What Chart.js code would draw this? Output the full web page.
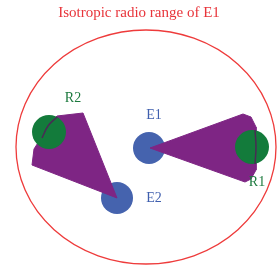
<!DOCTYPE html>
<html>
<head>
<meta charset="utf-8">
<script src="https://cdn.jsdelivr.net/npm/chart.js@4/dist/chart.umd.min.js"></script>
<style>
  html, body { margin: 0; padding: 0; background: #ffffff; }
  #wrap { width: 278px; height: 266px; }
</style>
</head>
<body>
<div id="wrap"><canvas id="c" width="278" height="266"></canvas></div>
<script>
// ---- data (diagram coordinates, x right, y down) ----
const titleText = "Isotropic radio range of E1";
const rangeCenter = [146, 147];
const rangeRadii = [130, 117];

const nodeNames = ["E1", "E2"];
const nodeX = [149, 117];
const nodeY = [148, 198];

const receiverNames = ["R1", "R2"];
const receiverX = [252, 49];
const receiverY = [147, 132];

const beam1X = [150, 243, 251, 256, 256, 251, 245, 150];
const beam1Y = [148, 114, 117, 127, 170, 179, 182, 148];
const beam2X = [83, 117, 32, 34, 41, 48, 57, 83];
const beam2Y = [113, 198, 165, 149, 138, 126, 116, 113];

const edge1X = [255, 256, 255];
const edge1Y = [130, 147, 164];
const edge2X = [42, 48, 57];
const edge2Y = [138, 126, 117];

const labelTexts = ["E1", "E2", "R1", "R2"];
const labelX = [154, 154, 257, 73];
const labelY = [115, 198, 182, 98];
const labelColors = ["#3F5FAE", "#3F5FAE", "#1C7A3E", "#1C7A3E"];

// ---- build datasets ----
const pts = (xs, ys) => xs.map((x, i) => ({ x: x, y: ys[i] }));

const rangePlugin = {
  id: "rangeEllipse",
  beforeDatasetsDraw(chart) {
    const xs = chart.scales.x, ys = chart.scales.y, ctx = chart.ctx;
    const cx = xs.getPixelForValue(rangeCenter[0]);
    const cy = ys.getPixelForValue(rangeCenter[1]);
    const rx = Math.abs(xs.getPixelForValue(rangeCenter[0] + rangeRadii[0]) - cx);
    const ry = Math.abs(ys.getPixelForValue(rangeCenter[1] + rangeRadii[1]) - cy);
    ctx.save();
    ctx.beginPath();
    ctx.ellipse(cx, cy, rx, ry, 0, 0, Math.PI * 2);
    ctx.strokeStyle = "#EE3B3B";
    ctx.lineWidth = 1.3;
    ctx.stroke();
    ctx.restore();
  }
};

const labelPlugin = {
  id: "nodeLabels",
  afterDatasetsDraw(chart) {
    const xs = chart.scales.x, ys = chart.scales.y, ctx = chart.ctx;
    ctx.save();
    ctx.font = "14px 'Liberation Serif', 'DejaVu Serif', serif";
    ctx.textAlign = "center";
    ctx.textBaseline = "middle";
    labelTexts.forEach((t, i) => {
      ctx.fillStyle = labelColors[i];
      ctx.fillText(t, xs.getPixelForValue(labelX[i]), ys.getPixelForValue(labelY[i]));
    });
    ctx.restore();
  }
};

new Chart(document.getElementById("c"), {
  type: "scatter",
  data: {
    datasets: [
      {
        label: "Nodes",
        data: pts(nodeX, nodeY),
        pointRadius: 16,
        pointHoverRadius: 16,
        backgroundColor: "#4563AE",
        borderWidth: 0,
        showLine: false,
        order: 5
      },
      {
        label: "Beam E1-R1",
        data: pts(beam1X, beam1Y),
        showLine: true,
        fill: "shape",
        backgroundColor: "#7E2584",
        borderColor: "#7E2584",
        borderWidth: 1,
        pointRadius: 0,
        tension: 0,
        order: 4
      },
      {
        label: "Beam E2-R2",
        data: pts(beam2X, beam2Y),
        showLine: true,
        fill: "shape",
        backgroundColor: "#7E2584",
        borderColor: "#7E2584",
        borderWidth: 1,
        pointRadius: 0,
        tension: 0,
        order: 4
      },
      {
        label: "Receivers",
        data: pts(receiverX, receiverY),
        pointRadius: 17,
        pointHoverRadius: 17,
        backgroundColor: "#137B3B",
        borderWidth: 0,
        showLine: false,
        order: 3
      },
      {
        label: "Edge R1",
        data: pts(edge1X, edge1Y),
        showLine: true,
        borderColor: "#4A2A55",
        borderWidth: 1.5,
        pointRadius: 0,
        tension: 0.4,
        order: 2
      },
      {
        label: "Edge R2",
        data: pts(edge2X, edge2Y),
        showLine: true,
        borderColor: "#4A2A55",
        borderWidth: 1.5,
        pointRadius: 0,
        tension: 0.4,
        order: 2
      }
    ]
  },
  options: {
    responsive: false,
    animation: false,
    events: [],
    layout: { padding: 0, autoPadding: false },
    scales: {
      x: { type: "linear", display: false, min: 0, max: 278 },
      y: { type: "linear", display: false, min: 27, max: 266, reverse: true }
    },
    plugins: {
      legend: { display: false },
      tooltip: { enabled: false },
      title: {
        display: true,
        text: titleText,
        color: "#E8343A",
        font: { family: "'Liberation Serif', 'DejaVu Serif', serif", size: 15, weight: "normal", lineHeight: 1.2 },
        padding: { top: 4.5, bottom: 4.5 }
      }
    }
  },
  plugins: [rangePlugin, labelPlugin]
});
</script>
</body>
</html>
